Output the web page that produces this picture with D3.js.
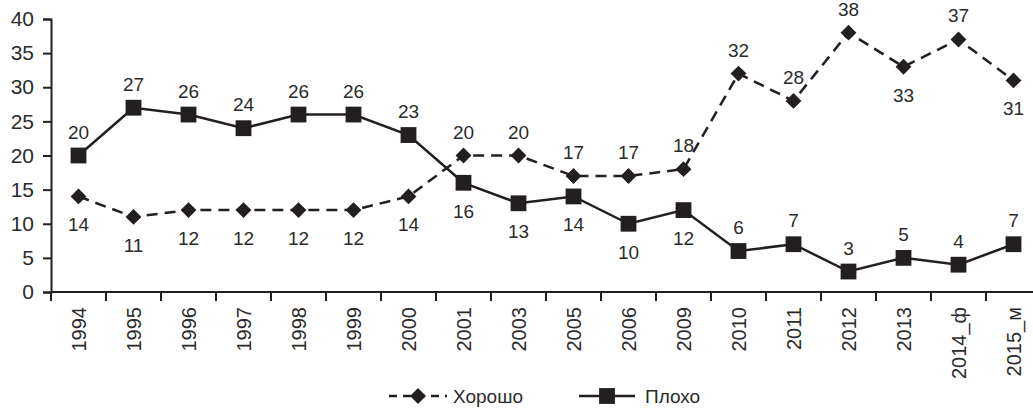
<!DOCTYPE html>
<html>
<head>
<meta charset="utf-8">
<script src="https://cdn.jsdelivr.net/npm/d3@7"></script>
<style>
  body { margin: 0; background: #fff; }
  svg { display: block; font-family: "Liberation Sans", Arial, sans-serif; }
</style>
</head>
<body>
<div id="chart"></div>
<script>
// categories and series
const years = ["1994", "1995", "1996", "1997", "1998", "1999", "2000", "2001", "2003", "2005",
    "2006", "2009", "2010", "2011", "2012", "2013", "2014_ф", "2015_м"];
const good = [14, 11, 12, 12, 12, 12, 14, 20, 20, 17, 17, 18, 32, 28, 38, 33, 37, 31];
const bad = [20, 27, 26, 24, 26, 26, 23, 16, 13, 14, 10, 12, 6, 7, 3, 5, 4, 7];
// where each value label sits relative to its point
const goodLabelPos = ["b", "b", "b", "b", "b", "b", "b", "a", "a", "a", "a", "a", "a", "a", "a", "b", "a", "b"];
const badLabelPos = ["a", "a", "a", "a", "a", "a", "a", "b", "b", "b", "b", "b", "a", "a", "a", "a", "a", "a"];
const yTicks = [0, 5, 10, 15, 20, 25, 30, 35, 40];
const seriesNames = ["Хорошо", "Плохо"];

const width = 1033, height = 409;
const color = "#231f20";
const textColor = "#2b2b2b";

const svg = d3.select("#chart").append("svg")
    .attr("width", width)
    .attr("height", height);

const x = d3.scaleBand().domain(years).range([51, 1041]);
const y = d3.scaleLinear().domain([0, 40]).range([292, 19]);
const cx = d => x(d) + x.bandwidth() / 2;

// y axis
const yAxis = svg.append("g")
    .attr("transform", "translate(51,0)")
    .call(d3.axisLeft(y).tickValues(yTicks).tickSize(8).tickPadding(9));
yAxis.select(".domain").attr("stroke", color).attr("stroke-width", 2);
yAxis.selectAll(".tick line").attr("stroke", color).attr("stroke-width", 2);
yAxis.selectAll(".tick text").attr("fill", textColor).attr("font-size", 21)
    .attr("font-family", "Liberation Sans, Arial, sans-serif");

// x axis: ticks at category boundaries
const xAxisG = svg.append("g").attr("transform", "translate(0,292)");
xAxisG.append("line")
    .attr("x1", 51).attr("x2", 1041)
    .attr("stroke", color).attr("stroke-width", 2);
xAxisG.selectAll("line.tk")
    .data(years)
    .enter().append("line")
    .attr("class", "tk")
    .attr("x1", d => x(d)).attr("x2", d => x(d))
    .attr("y1", 0).attr("y2", 9)
    .attr("stroke", color).attr("stroke-width", 2);
xAxisG.selectAll("text")
    .data(years)
    .enter().append("text")
    .attr("transform", d => `translate(${cx(d) + 7},15) rotate(-90)`)
    .attr("text-anchor", "end")
    .attr("fill", textColor)
    .attr("font-size", 20)
    .text(d => d);

const line = d3.line().x((d, i) => cx(years[i])).y(d => y(d));

// Хорошо: dashed with diamonds
svg.append("path")
    .datum(good)
    .attr("d", line)
    .attr("fill", "none")
    .attr("stroke", color)
    .attr("stroke-width", 2.5)
    .attr("stroke-dasharray", "11,7");

// Плохо: solid with squares
svg.append("path")
    .datum(bad)
    .attr("d", line)
    .attr("fill", "none")
    .attr("stroke", color)
    .attr("stroke-width", 2.5);

const diamond = d3.symbol().type(d3.symbolDiamond2).size(160);
const square = d3.symbol().type(d3.symbolSquare).size(250);

svg.selectAll("path.good-pt")
    .data(good)
    .enter().append("path")
    .attr("class", "good-pt")
    .attr("transform", (d, i) => `translate(${cx(years[i])},${y(d)})`)
    .attr("d", diamond)
    .attr("fill", color);

svg.selectAll("path.bad-pt")
    .data(bad)
    .enter().append("path")
    .attr("class", "bad-pt")
    .attr("transform", (d, i) => `translate(${cx(years[i])},${y(d)})`)
    .attr("d", square)
    .attr("fill", color);

// value labels
function labels(data, pos, cls) {
    svg.selectAll("text." + cls)
        .data(data)
        .enter().append("text")
        .attr("class", cls)
        .attr("x", (d, i) => cx(years[i]))
        .attr("y", (d, i) => y(d) + (pos[i] === "a" ? -17 : 35))
        .attr("text-anchor", "middle")
        .attr("fill", textColor)
        .attr("font-size", 19)
        .text(d => d);
}
labels(good, goodLabelPos, "good-lbl");
labels(bad, badLabelPos, "bad-lbl");

// legend
const legend = svg.append("g").attr("transform", "translate(0,396)");
legend.append("line")
    .attr("x1", 389).attr("x2", 447)
    .attr("stroke", color).attr("stroke-width", 2.5)
    .attr("stroke-dasharray", "8,6");
legend.append("path")
    .attr("transform", "translate(418,0)")
    .attr("d", diamond)
    .attr("fill", color);
legend.append("text")
    .attr("x", 453).attr("y", 7)
    .attr("fill", textColor).attr("font-size", 19)
    .text(seriesNames[0]);
legend.append("line")
    .attr("x1", 579).attr("x2", 635)
    .attr("stroke", color).attr("stroke-width", 2.5);
legend.append("path")
    .attr("transform", "translate(607,0)")
    .attr("d", square)
    .attr("fill", color);
legend.append("text")
    .attr("x", 645).attr("y", 7)
    .attr("fill", textColor).attr("font-size", 19)
    .text(seriesNames[1]);
</script>
</body>
</html>
